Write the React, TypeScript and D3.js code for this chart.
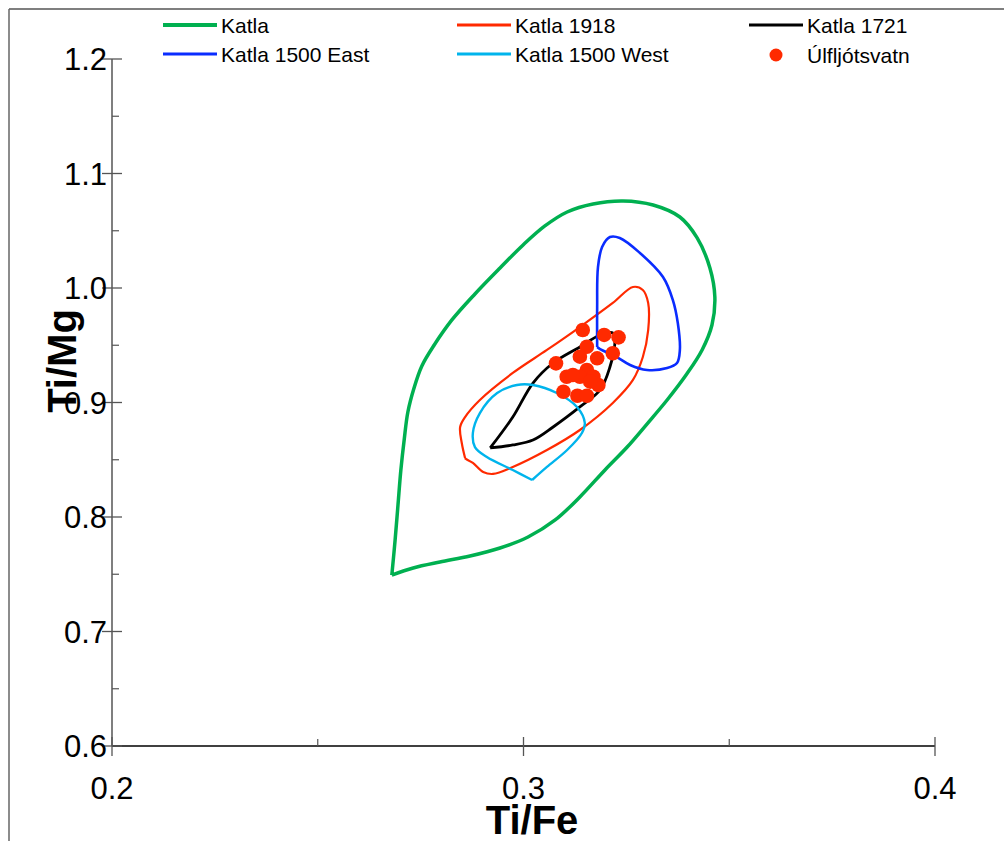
import React from "react";
import * as d3 from "d3";

type P = [number, number];

const xTicksMajor = [0.2, 0.3, 0.4];
const xTicksMinor = [0.25, 0.35];
const yTicksMajor = [0.6, 0.7, 0.8, 0.9, 1.0, 1.1, 1.2];
const yTicksMinor = [0.65, 0.75, 0.85, 0.95, 1.05, 1.15];

const katla: P[] = [
  [0.268, 0.7493], [0.2688, 0.7799], [0.2695, 0.8105], [0.2702, 0.8411], [0.271, 0.8673],
  [0.2719, 0.8917], [0.2734, 0.9127], [0.2753, 0.9319], [0.2783, 0.9502], [0.2826, 0.9721],
  [0.2882, 0.9948], [0.2943, 1.0175], [0.2999, 1.0376], [0.3052, 1.0542], [0.3106, 1.0664],
  [0.3169, 1.0734], [0.3242, 1.076], [0.3315, 1.0725], [0.338, 1.062], [0.3422, 1.0437],
  [0.3453, 1.0175], [0.3465, 0.9921], [0.3458, 0.9677], [0.3434, 0.9459], [0.3395, 0.924],
  [0.3349, 0.9022], [0.33, 0.8812], [0.3252, 0.8611], [0.3198, 0.8411], [0.3137, 0.8175],
  [0.3077, 0.7974], [0.3011, 0.7825], [0.2943, 0.7729], [0.287, 0.7659], [0.2797, 0.7607],
  [0.2732, 0.7555], [0.268, 0.7493],
];

const katla1918: P[] = [
  [0.2858, 0.8515], [0.285, 0.8646], [0.2846, 0.8786], [0.2858, 0.8873], [0.2894, 0.9022],
  [0.2974, 0.9258], [0.3057, 0.9459], [0.3137, 0.9659], [0.3217, 0.9869], [0.3266, 1.0009],
  [0.329, 0.9983], [0.3303, 0.9869], [0.3303, 0.9633], [0.329, 0.9397], [0.3266, 0.9197],
  [0.3217, 0.8996], [0.3137, 0.876], [0.3057, 0.8585], [0.2974, 0.8437], [0.2926, 0.8376],
  [0.2902, 0.8393], [0.2877, 0.8472], [0.286, 0.8507], [0.2858, 0.8515],
];

const katla1721: P[] = [
  [0.2919, 0.8603], [0.2974, 0.8873], [0.3023, 0.917], [0.3072, 0.9345], [0.3137, 0.9485],
  [0.3186, 0.959], [0.3217, 0.9607], [0.3222, 0.952], [0.321, 0.931], [0.3186, 0.9109],
  [0.3137, 0.8961], [0.3072, 0.8786], [0.3023, 0.8672], [0.2974, 0.8629], [0.2919, 0.8603],
];

const katla1500East: P[] = [
  [0.3179, 0.9485], [0.3179, 0.9834], [0.3181, 1.0183], [0.3191, 1.0358], [0.321, 1.0445],
  [0.3234, 1.0437], [0.3283, 1.0306], [0.3339, 1.0096], [0.3363, 0.9895], [0.3375, 0.9694],
  [0.338, 0.9459], [0.3373, 0.9345], [0.3349, 0.9301], [0.33, 0.9284], [0.3259, 0.9328],
  [0.3227, 0.9397], [0.3186, 0.9467], [0.3179, 0.9485],
];

const katla1500West: P[] = [
  [0.3021, 0.8323], [0.2974, 0.841], [0.2911, 0.8524], [0.2882, 0.8611], [0.2877, 0.8734],
  [0.2894, 0.8908], [0.2936, 0.9083], [0.2984, 0.9153], [0.3023, 0.9153], [0.3081, 0.9083],
  [0.313, 0.8961], [0.3149, 0.8821], [0.3142, 0.8734], [0.3106, 0.8585], [0.3057, 0.8437],
  [0.3021, 0.8323],
];

const ulfljotsvatnX = [
  0.3144, 0.3196, 0.3231, 0.3154, 0.3217, 0.3137, 0.3179, 0.3079, 0.3105,
  0.3154, 0.3137, 0.317, 0.3182, 0.3097, 0.3131, 0.3154, 0.3162, 0.312,
];
const ulfljotsvatnY = [
  0.9633, 0.959, 0.9569, 0.9487, 0.943, 0.94, 0.9386, 0.9342, 0.9225,
  0.9284, 0.9225, 0.9225, 0.9153, 0.9094, 0.9059, 0.9059, 0.9182, 0.924,
];

const seriesNames = ["Katla", "Katla 1918", "Katla 1721", "Katla 1500 East", "Katla 1500 West", "Úlfljótsvatn"];

const W = 1004;
const H = 841;

export default function App() {
  const x = d3.scaleLinear().domain([0.2, 0.4]).range([112, 935]);
  const y = d3.scaleLinear().domain([0.6, 1.2]).range([746, 59]);
  const line = d3
    .line<P>()
    .x((d) => x(d[0]))
    .y((d) => y(d[1]))
    .curve(d3.curveCatmullRom.alpha(0.5));

  const contours = [
    { data: katla, color: "#00b050", w: 3.5 },
    { data: katla1918, color: "#ff2a00", w: 2.2 },
    { data: katla1721, color: "#000000", w: 2.8 },
    { data: katla1500East, color: "#0a2cff", w: 2.6 },
    { data: katla1500West, color: "#00b4ec", w: 2.4 },
  ];

  const font = "'Liberation Sans', Arial, sans-serif";
  const legendItems = [
    { name: seriesNames[0], color: "#00b050", w: 4, lx: 163, ly: 25, type: "line" },
    { name: seriesNames[1], color: "#ff2a00", w: 3, lx: 457, ly: 25, type: "line" },
    { name: seriesNames[2], color: "#000000", w: 3, lx: 749, ly: 25, type: "line" },
    { name: seriesNames[3], color: "#0a2cff", w: 3, lx: 163, ly: 54, type: "line" },
    { name: seriesNames[4], color: "#00b4ec", w: 3, lx: 457, ly: 54, type: "line" },
    { name: seriesNames[5], color: "#ff2a00", w: 3, lx: 749, ly: 55, type: "dot" },
  ];

  return (
    <div style={{ position: "absolute", left: 0, top: 0 }}>
      <svg width={W} height={H} style={{ display: "block", background: "#fff" }}>
        <rect x={0} y={0} width={W} height={H} fill="#fff" />
        {/* frame */}
        <line x1={9} y1={9} x2={W} y2={9} stroke="#000" strokeWidth={1.2} />
        <line x1={9} y1={9} x2={9} y2={H} stroke="#666" strokeWidth={1.5} />

        {/* legend */}
        {legendItems.map((it) => (
          <g key={it.name}>
            {it.type === "line" ? (
              <line x1={it.lx} x2={it.lx + 54} y1={it.ly} y2={it.ly} stroke={it.color} strokeWidth={it.w} />
            ) : (
              <circle cx={it.lx + 27} cy={it.ly} r={6.5} fill={it.color} />
            )}
            <text x={it.lx + 58} y={it.ly + 8} fontFamily={font} fontSize={21} fill="#000">
              {it.name}
            </text>
          </g>
        ))}

        {/* axes */}
        <line x1={x(0.2)} x2={x(0.4)} y1={y(0.6)} y2={y(0.6)} stroke="#000" strokeWidth={1.5} />
        <line x1={x(0.2)} x2={x(0.2)} y1={y(0.6)} y2={y(1.2)} stroke="#555" strokeWidth={1.5} />
        {xTicksMajor.map((t) => (
          <g key={"xm" + t}>
            <line x1={x(t)} x2={x(t)} y1={y(0.6) - 9} y2={y(0.6) + 10} stroke="#555" strokeWidth={1.3} />
            <text x={x(t)} y={799} textAnchor="middle" fontFamily={font} fontSize={31} fill="#000">
              {t.toFixed(1)}
            </text>
          </g>
        ))}
        {xTicksMinor.map((t) => (
          <line key={"xn" + t} x1={x(t)} x2={x(t)} y1={y(0.6) - 7} y2={y(0.6)} stroke="#555" strokeWidth={1.2} />
        ))}
        {yTicksMajor.map((t) => (
          <g key={"ym" + t}>
            <line x1={x(0.2) - 10} x2={x(0.2) + 10} y1={y(t)} y2={y(t)} stroke="#555" strokeWidth={1.3} />
            <text x={107} y={y(t) + 11} textAnchor="end" fontFamily={font} fontSize={31} fill="#000">
              {t.toFixed(1)}
            </text>
          </g>
        ))}
        {yTicksMinor.map((t) => (
          <line key={"yn" + t} x1={x(0.2)} x2={x(0.2) + 7} y1={y(t)} y2={y(t)} stroke="#555" strokeWidth={1.2} />
        ))}

        {/* axis titles */}
        <text x={532} y={834} textAnchor="middle" fontFamily={font} fontWeight="bold" fontSize={40} fill="#000">
          Ti/Fe
        </text>
        <text
          transform={`translate(76,361) rotate(-90)`}
          textAnchor="middle"
          fontFamily={font}
          fontWeight="bold"
          fontSize={40}
          fill="#000"
        >
          Ti/Mg
        </text>

        {/* contours */}
        {contours.map((c, i) => (
          <path key={i} d={line(c.data) || ""} fill="none" stroke={c.color} strokeWidth={c.w} strokeLinejoin="round" />
        ))}

        {/* points */}
        {ulfljotsvatnX.map((vx, i) => (
          <circle key={"p" + i} cx={x(vx)} cy={y(ulfljotsvatnY[i])} r={7.3} fill="#ff2a00" />
        ))}
      </svg>
    </div>
  );
}
